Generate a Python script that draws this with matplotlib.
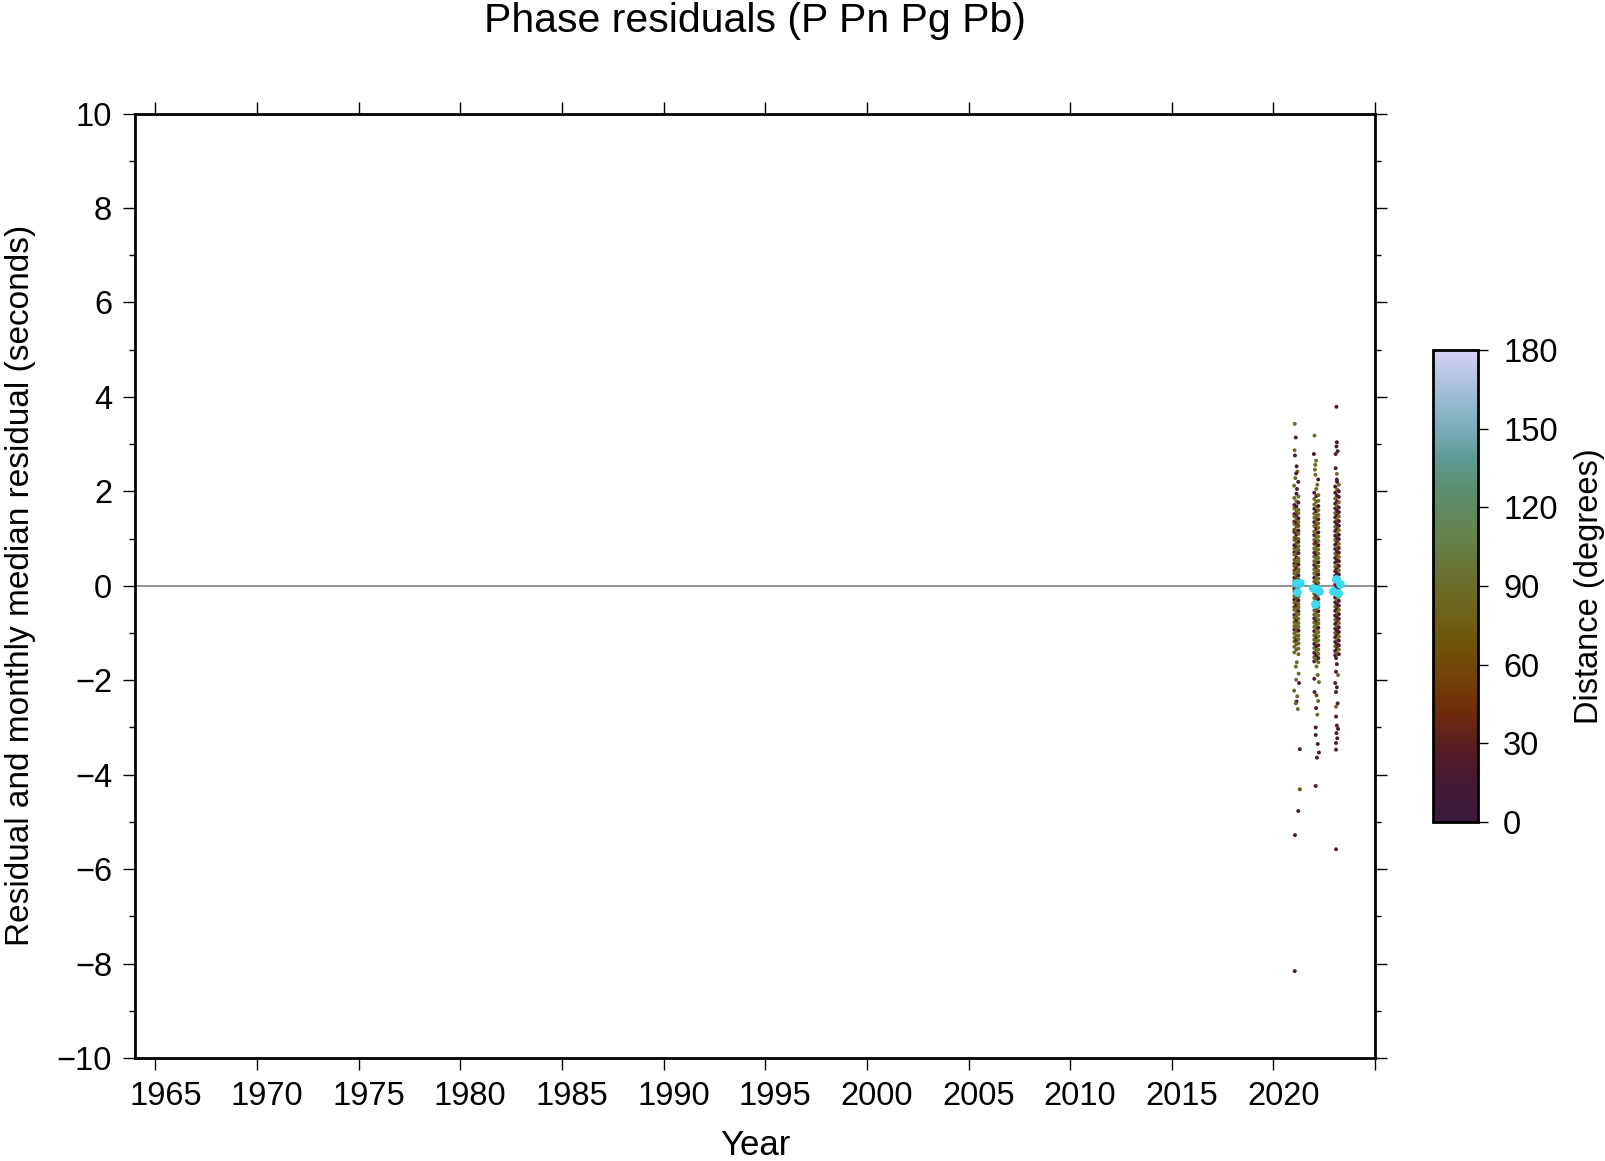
import numpy as np
import matplotlib
matplotlib.use("Agg")
import matplotlib.pyplot as plt
import matplotlib.transforms as mtransforms
from matplotlib.colors import LinearSegmentedColormap, Normalize
from matplotlib.cm import ScalarMappable

plt.rcParams['font.family'] = ['Liberation Sans', 'DejaVu Sans']

# --- data ---
# dense part of each yearly cluster, three time columns per year
c21_years = [2021.03, 2021.13, 2021.23]
c21_res = [
    [1.86, 1.71, 1.64, 1.52, 1.47, 1.36, 1.31, 1.19, 1.14, 1.02, 0.97, 0.86, 0.79, 0.71, 0.66, 0.55, 0.47, 0.42, 0.33, 0.26,
     0.17, 0.11, 0.03, -0.06, -0.12, -0.21, -0.29, -0.36, -0.45, -0.51, -0.62, -0.68, -0.77, -0.85, -0.93, -1.01, -1.10, -1.18, -1.29, -1.41],
    [1.95, 1.79, 1.68, 1.58, 1.50, 1.41, 1.33, 1.25, 1.16, 1.08, 1.00, 0.91, 0.83, 0.75, 0.68, 0.60, 0.51, 0.44, 0.37, 0.28,
     0.20, 0.13, 0.05, -0.02, -0.10, -0.18, -0.25, -0.33, -0.41, -0.49, -0.57, -0.65, -0.73, -0.81, -0.89, -0.97, -1.06, -1.15, -1.24, -1.35],
    [1.89, 1.76, 1.61, 1.54, 1.43, 1.35, 1.27, 1.17, 1.10, 0.99, 0.93, 0.84, 0.76, 0.69, 0.58, 0.52, 0.45, 0.35, 0.30, 0.22,
     0.14, 0.07, -0.01, -0.09, -0.14, -0.23, -0.31, -0.39, -0.46, -0.54, -0.60, -0.70, -0.79, -0.87, -0.95, -1.05, -1.13, -1.22, -1.33, -1.45],
]
c21_dist = [
    [88, 22, 85, 18, 90, 25, 84, 60, 20, 87, 92, 15, 83, 24, 89, 86, 19, 91, 55, 82,
     27, 88, 85, 21, 93, 84, 17, 90, 58, 86, 23, 89, 91, 84, 26, 88, 95, 82, 87, 92],
    [20, 87, 16, 84, 28, 90, 23, 86, 89, 18, 52, 88, 25, 85, 92, 21, 87, 83, 26, 90,
     86, 19, 84, 91, 24, 88, 62, 85, 22, 90, 87, 83, 18, 92, 86, 89, 84, 25, 90, 86],
    [85, 24, 90, 88, 19, 86, 57, 22, 91, 84, 27, 89, 86, 20, 83, 92, 25, 87, 85, 18,
     90, 88, 23, 84, 86, 91, 21, 88, 85, 26, 92, 87, 84, 89, 22, 86, 90, 85, 88, 83],
]

c22_years = [2022.01, 2022.11, 2022.21]
c22_res = [
    [1.97, 1.84, 1.72, 1.63, 1.53, 1.44, 1.35, 1.26, 1.15, 1.07, 0.97, 0.89, 0.79, 0.70, 0.62, 0.52, 0.44, 0.35, 0.26, 0.17,
     0.09, 0.00, -0.08, -0.17, -0.26, -0.35, -0.43, -0.52, -0.61, -0.69, -0.78, -0.87, -0.96, -1.05, -1.14, -1.23, -1.32, -1.42, -1.51, -1.60],
    [2.05, 1.90, 1.78, 1.67, 1.58, 1.48, 1.39, 1.30, 1.21, 1.11, 1.02, 0.93, 0.84, 0.75, 0.66, 0.57, 0.48, 0.39, 0.30, 0.22,
     0.13, 0.04, -0.04, -0.13, -0.21, -0.30, -0.39, -0.47, -0.56, -0.65, -0.74, -0.82, -0.91, -1.00, -1.09, -1.18, -1.28, -1.37, -1.47, -1.57],
    [1.92, 1.80, 1.69, 1.60, 1.50, 1.41, 1.32, 1.23, 1.13, 1.04, 0.95, 0.86, 0.77, 0.68, 0.59, 0.50, 0.41, 0.32, 0.24, 0.15,
     0.06, -0.02, -0.11, -0.19, -0.28, -0.37, -0.45, -0.54, -0.63, -0.72, -0.80, -0.89, -0.98, -1.07, -1.16, -1.26, -1.35, -1.44, -1.53, -1.62],
]
c22_dist = [
    [22, 86, 89, 25, 84, 88, 19, 91, 85, 23, 87, 55, 90, 21, 86, 84, 26, 89, 92, 18,
     85, 88, 24, 90, 86, 83, 20, 88, 91, 27, 85, 87, 22, 89, 84, 19, 86, 24, 88, 21],
    [87, 20, 85, 90, 23, 86, 88, 58, 21, 84, 91, 26, 87, 85, 19, 90, 88, 24, 83, 86,
     92, 22, 87, 89, 25, 84, 88, 21, 90, 86, 18, 87, 85, 92, 24, 88, 20, 86, 23, 85],
    [84, 88, 21, 86, 90, 24, 87, 85, 19, 89, 92, 23, 86, 84, 88, 26, 90, 85, 22, 87,
     89, 60, 84, 91, 20, 86, 88, 25, 85, 90, 87, 21, 84, 88, 92, 26, 86, 85, 19, 87],
]

c23_years = [2023.04, 2023.13, 2023.22]
c23_res = [
    [2.10, 1.97, 1.85, 1.74, 1.64, 1.54, 1.45, 1.35, 1.25, 1.16, 1.06, 0.97, 0.87, 0.78, 0.68, 0.59, 0.49, 0.40, 0.31,
     0.21, 0.12, 0.03, -0.07, -0.16, -0.25, -0.35, -0.44, -0.53, -0.63, -0.72, -0.81, -0.91, -1.00, -1.09, -1.19, -1.28, -1.38, -1.47],
    [2.20, 2.04, 1.91, 1.79, 1.69, 1.59, 1.49, 1.40, 1.30, 1.20, 1.11, 1.01, 0.92, 0.82, 0.73, 0.63, 0.54, 0.45, 0.35,
     0.26, 0.16, 0.07, -0.02, -0.11, -0.21, -0.30, -0.39, -0.49, -0.58, -0.67, -0.77, -0.86, -0.95, -1.05, -1.14, -1.24, -1.33, -1.43],
    [2.14, 2.00, 1.88, 1.77, 1.66, 1.56, 1.47, 1.37, 1.27, 1.18, 1.08, 0.99, 0.89, 0.80, 0.70, 0.61, 0.52, 0.42, 0.33,
     0.24, 0.14, 0.05, -0.05, -0.14, -0.23, -0.32, -0.42, -0.51, -0.60, -0.70, -0.79, -0.88, -0.98, -1.07, -1.16, -1.26, -1.35, -1.45],
]
c23_dist = [
    [18, 22, 86, 20, 25, 84, 19, 23, 88, 21, 17, 85, 24, 20, 87, 22, 18, 84, 26,
     19, 86, 23, 21, 88, 17, 24, 85, 20, 22, 86, 19, 25, 84, 21, 18, 87, 23, 20],
    [21, 85, 19, 24, 88, 20, 22, 86, 18, 25, 84, 21, 19, 87, 23, 55, 20, 85, 18,
     22, 88, 24, 19, 84, 21, 86, 23, 20, 87, 18, 24, 85, 21, 19, 88, 22, 20, 84],
    [86, 20, 23, 88, 19, 21, 85, 24, 18, 87, 22, 20, 84, 25, 19, 86, 21, 23, 88,
     18, 20, 85, 24, 22, 87, 19, 21, 84, 25, 20, 86, 18, 23, 88, 21, 19, 85, 22],
]

# sparse outliers (year, residual, distance)
tail_year = [2021.05, 2021.10, 2021.04, 2021.06, 2021.14, 2021.18, 2021.12, 2021.08, 2021.22, 2021.02, 2021.16,
             2021.15, 2021.10, 2021.24, 2021.12, 2021.26, 2021.02, 2021.17, 2021.14, 2021.10, 2021.20,
             2021.30, 2021.30, 2021.22, 2021.06, 2021.05,
             2022.02, 2021.99, 2022.10, 2022.06, 2022.04, 2022.07, 2022.20, 2022.16,
             2022.12, 2022.18, 2022.01, 2022.24, 2022.02, 2022.12, 2022.20, 2022.10, 2022.16, 2022.08,
             2022.08, 2022.18, 2022.24, 2022.14, 2022.08,
             2023.10, 2023.12, 2023.10, 2023.16, 2023.06, 2023.06, 2023.12, 2023.12,
             2023.08, 2023.12, 2023.08, 2023.18, 2023.04, 2023.12, 2023.08, 2023.16, 2023.08, 2023.08,
             2023.12, 2023.18, 2023.10, 2023.14, 2023.08, 2023.08, 2023.08]
tail_res = [3.43, 3.14, 2.87, 2.76, 2.53, 2.42, 2.38, 2.28, 2.20, 2.12, 2.05,
            -1.62, -1.71, -1.86, -1.99, -2.06, -2.22, -2.34, -2.45, -2.49, -2.61,
            -3.46, -4.31, -4.77, -5.28, -8.16,
            3.18, 2.79, 2.65, 2.56, 2.46, 2.35, 2.25, 2.14,
            -1.71, -1.89, -1.97, -2.04, -2.25, -2.32, -2.44, -2.59, -2.73, -3.00,
            -3.16, -3.35, -3.53, -3.64, -4.24,
            3.79, 3.04, 2.95, 2.85, 2.79, 2.49, 2.37, 2.25,
            -1.53, -1.66, -1.82, -1.89, -2.06, -2.15, -2.25, -2.49, -2.56, -2.77,
            -2.96, -3.03, -3.12, -3.23, -3.33, -3.47, -5.58]
tail_dist = [88, 20, 86, 18, 22, 84, 25, 87, 19, 85, 24,
             86, 88, 84, 90, 22, 86, 89, 20, 85, 87,
             18, 62, 20, 18, 15,
             90, 20, 86, 84, 88, 85, 22, 87,
             88, 86, 20, 84, 22, 55, 87, 25, 89, 18,
             22, 20, 24, 18, 21,
             18, 20, 22, 19, 24, 21, 86, 20,
             19, 22, 20, 86, 18, 23, 21, 19, 84, 20,
             22, 18, 21, 19, 24, 20, 18]

# monthly medians
med_year = [2021.13, 2021.29, 2021.18, 2021.95, 2022.14, 2022.24, 2022.03, 2023.10, 2023.28, 2022.93, 2023.18]
med_res = [0.06, 0.06, -0.13, -0.05, -0.07, -0.10, -0.39, 0.14, 0.03, -0.11, -0.15]

year_ticks = [1965, 1970, 1975, 1980, 1985, 1990, 1995, 2000, 2005, 2010, 2015, 2020, 2025]
year_labels = ['1965', '1970', '1975', '1980', '1985', '1990', '1995', '2000', '2005', '2010', '2015', '2020', '']
res_ticks = [-10, -8, -6, -4, -2, 0, 2, 4, 6, 8, 10]
dist_ticks = [0, 30, 60, 90, 120, 150, 180]

# colour scale sampled from the colour bar
cb_colors = ['#3b1a3b', '#451a35', '#561c24', '#6e2c0c', '#724208', '#6e5606', '#6e6620',
             '#6a7436', '#64844e', '#5c8c6a', '#5e9a92', '#80b0c0', '#a8c0dc', '#d6d0f8']
cmap = LinearSegmentedColormap.from_list('dist', cb_colors)
norm = Normalize(0, 180)

# gather points
xs, ys, cs = [], [], []
for yrs, res, dist in [(c21_years, c21_res, c21_dist), (c22_years, c22_res, c22_dist), (c23_years, c23_res, c23_dist)]:
    for yr, r, d in zip(yrs, res, dist):
        xs += [yr] * len(r)
        ys += r
        cs += d
xs += tail_year
ys += tail_res
cs += tail_dist

fig = plt.figure(figsize=(16.06, 11.61), dpi=100)
ax = fig.add_axes([0.0841, 0.0887, 0.7721, 0.8135])

ax.axhline(0, color='#8a8a8a', lw=1.3, zorder=1)
ax.scatter(xs, ys, c=cs, cmap=cmap, norm=norm, s=8, linewidths=0, zorder=2)
ax.scatter(med_year, med_res, color='#3dd9f2', s=40, linewidths=0, zorder=3)

ax.set_xlim(1964, 2025)
ax.set_ylim(-10, 10)
ax.set_xticks(year_ticks)
ax.set_xticklabels(year_labels)
ax.set_yticks(res_ticks)
ax.set_yticks(np.arange(-9, 10, 2), minor=True)
ax.tick_params(which='both', direction='out', top=True, right=True, width=1.0, labelsize=23.5, pad=8)
ax.tick_params(which='major', length=8.5)
ax.tick_params(which='minor', length=4.3)
for sp in ax.spines.values():
    sp.set_linewidth(2.0)

# year labels sit a little to the right of their ticks
shift = mtransforms.ScaledTranslation(0.10, 0, fig.dpi_scale_trans)
for lbl in ax.get_xticklabels():
    lbl.set_transform(lbl.get_transform() + shift)

ax.set_xlabel('Year', fontsize=25, labelpad=12)
ax.set_ylabel('Residual and monthly median residual (seconds)', fontsize=24, labelpad=15)
fig.text(0.470, 0.982, 'Phase residuals (P Pn Pg Pb)', fontsize=29.5, ha='center', va='center')

# colour bar
cax = fig.add_axes([0.8923, 0.292, 0.028, 0.4065])
cb = fig.colorbar(ScalarMappable(norm=norm, cmap=cmap), cax=cax, ticks=dist_ticks)
cb.outline.set_linewidth(2.0)
cax.tick_params(direction='out', length=7, width=1.0, labelsize=23.5, pad=11)
cb.set_label('Distance (degrees)', fontsize=23.5, labelpad=12)

fig.savefig('out.png', dpi=100)
